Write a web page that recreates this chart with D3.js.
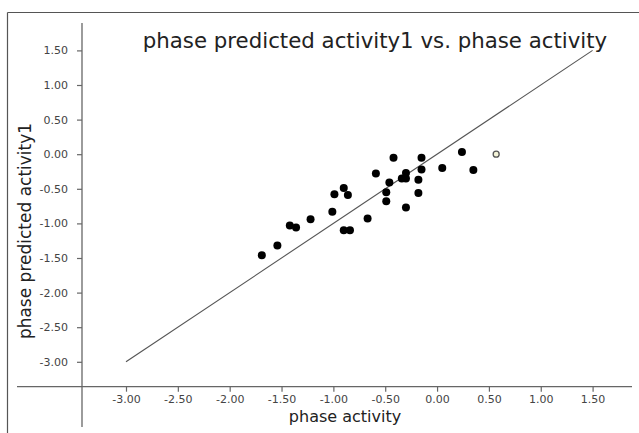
<!DOCTYPE html>
<html>
<head>
<meta charset="utf-8">
<script src="https://cdn.jsdelivr.net/npm/d3@7"></script>
<style>
    body { margin: 0; background: #fff; }
    svg { display: block; font-family: "DejaVu Sans", sans-serif; }
</style>
</head>
<body>
<svg></svg>
<script>
// observed phase activity (x) vs predicted (y)
var xValues = [-1.69, -1.54, -1.42, -1.36, -1.22, -1.01, -0.99, -0.90, -0.86, -0.90, -0.84, -0.67, -0.59, -0.49,
    -0.49, -0.46, -0.42, -0.34, -0.30, -0.30, -0.30, -0.15, -0.15, -0.18, -0.18, 0.05, 0.24, 0.35];
var yValues = [-1.46, -1.32, -1.03, -1.06, -0.94, -0.83, -0.58, -0.49, -0.59, -1.10, -1.10, -0.93, -0.28, -0.55,
    -0.68, -0.41, -0.05, -0.35, -0.35, -0.27, -0.77, -0.05, -0.22, -0.37, -0.56, -0.20, 0.03, -0.23];
var outlierX = [0.57];
var outlierY = [0.00];
var refLine = [-3, 1.5];
var xTicks = [-3, -2.5, -2, -1.5, -1, -0.5, 0, 0.5, 1, 1.5];
var yTicks = [-3, -2.5, -2, -1.5, -1, -0.5, 0, 0.5, 1, 1.5];

var W = 639, H = 433;
var svg = d3.select('svg').attr('width', W).attr('height', H);

var x = d3.scaleLinear().domain([-3, 1.5]).range([126, 592.6]);
var y = d3.scaleLinear().domain([-3, 1.5]).range([361.8, 50.4]);
var AX_X = 82, AX_Y = 386.7;

// frame: top and left only
svg.append("line").attr("x1", 7.5).attr("x2", W).attr("y1", 12.5).attr("y2", 12.5)
    .attr("stroke", "#555").attr("stroke-width", 1.2);
svg.append("line").attr("x1", 7.5).attr("x2", 7.5).attr("y1", 12.5).attr("y2", H)
    .attr("stroke", "#555").attr("stroke-width", 1.2);

// axes lines
svg.append("line").attr("x1", 17).attr("x2", 632).attr("y1", AX_Y).attr("y2", AX_Y)
    .attr("stroke", "#666").attr("stroke-width", 1.3);
svg.append("line").attr("x1", AX_X).attr("x2", AX_X).attr("y1", 23).attr("y2", 427)
    .attr("stroke", "#666").attr("stroke-width", 1.3);

var fmt = function (d) { return d3.format(".2f")(d).replace("\u2212", "-"); };

var xAxis = svg.append("g").attr("transform", "translate(0," + AX_Y + ")")
    .call(d3.axisBottom(x).tickValues(xTicks).tickFormat(fmt).tickSize(5).tickPadding(4));
var yAxis = svg.append("g").attr("transform", "translate(" + AX_X + ",0)")
    .call(d3.axisLeft(y).tickValues(yTicks).tickFormat(fmt).tickSize(5).tickPadding(9));
[xAxis, yAxis].forEach(function (a) {
    a.select(".domain").remove();
    a.selectAll(".tick line").attr("stroke", "#666").attr("stroke-width", 1.2);
    a.selectAll(".tick text").attr("fill", "#444").style("font-size", "11px")
        .style("font-family", "DejaVu Sans, sans-serif");
});

// identity reference line
svg.append("line")
    .attr("x1", x(refLine[0])).attr("y1", y(refLine[0]))
    .attr("x2", x(refLine[1])).attr("y2", y(refLine[1]))
    .attr("stroke", "#555").attr("stroke-width", 1.1);

svg.append("g").selectAll("circle")
    .data(xValues)
    .enter().append("circle")
    .attr("cx", function (d) { return x(d); })
    .attr("cy", function (d, i) { return y(yValues[i]); })
    .attr("r", 4)
    .attr("fill", "#000");

svg.append("g").selectAll("circle")
    .data(outlierX)
    .enter().append("circle")
    .attr("cx", function (d) { return x(d); })
    .attr("cy", function (d, i) { return y(outlierY[i]); })
    .attr("r", 3)
    .attr("fill", "#f4f4d8")
    .attr("stroke", "#555")
    .attr("stroke-width", 1.3);

// titles
svg.append("text").attr("x", 375).attr("y", 48).attr("text-anchor", "middle")
    .attr("fill", "#222").style("font-size", "21.3px")
    .text("phase predicted activity1 vs. phase activity");
svg.append("text").attr("x", 345).attr("y", 422).attr("text-anchor", "middle")
    .attr("fill", "#222").style("font-size", "16px")
    .text("phase activity");
svg.append("text").attr("transform", "translate(31,231) rotate(-90)").attr("text-anchor", "middle")
    .attr("fill", "#222").style("font-size", "17px")
    .text("phase predicted activity1");
</script>
</body>
</html>
